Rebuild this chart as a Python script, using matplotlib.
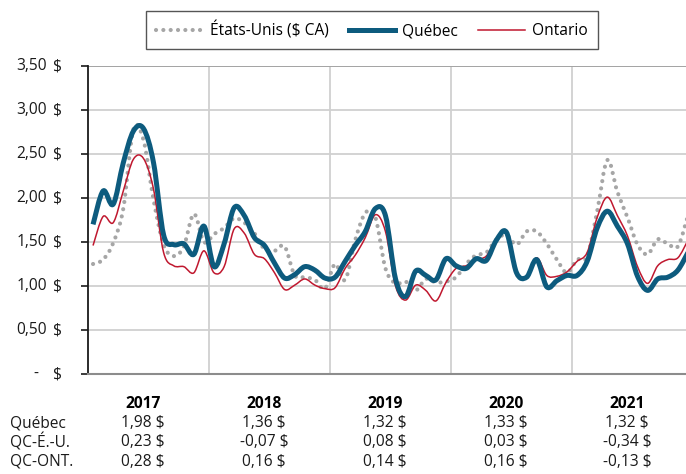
import matplotlib
matplotlib.use("Agg")
import matplotlib.pyplot as plt
import numpy as np
from matplotlib.path import Path
from matplotlib.patches import PathPatch
from matplotlib.lines import Line2D
import matplotlib.transforms as mtransforms

plt.rcParams['font.family'] = ['Open Sans', 'DejaVu Sans']

# ---- data (monthly, Jan 2017 - Dec 2021) ----
quebec = [1.70, 2.08, 1.93, 2.40, 2.76, 2.79, 2.40, 1.58, 1.47, 1.48, 1.36, 1.68,
          1.22, 1.48, 1.89, 1.80, 1.55, 1.46, 1.26, 1.09, 1.13, 1.22, 1.18, 1.09,
          1.10, 1.28, 1.46, 1.62, 1.88, 1.80, 1.08, 0.88, 1.17, 1.12, 1.07, 1.31,
          1.23, 1.20, 1.31, 1.29, 1.52, 1.61, 1.15, 1.10, 1.30, 0.99, 1.06, 1.12,
          1.12, 1.28, 1.66, 1.85, 1.68, 1.48, 1.11, 0.95, 1.08, 1.10, 1.18, 1.38]
ontario = [1.46, 1.79, 1.72, 2.08, 2.44, 2.45, 2.10, 1.38, 1.23, 1.22, 1.15, 1.40,
           1.15, 1.22, 1.65, 1.60, 1.36, 1.31, 1.15, 0.96, 1.01, 1.08, 1.01, 0.97,
           0.98, 1.20, 1.35, 1.55, 1.81, 1.62, 1.00, 0.84, 1.01, 0.95, 0.83, 1.04,
           1.20, 1.23, 1.30, 1.34, 1.53, 1.60, 1.14, 1.11, 1.32, 1.12, 1.11, 1.16,
           1.28, 1.38, 1.78, 2.01, 1.80, 1.57, 1.22, 1.03, 1.23, 1.30, 1.32, 1.52]
etats_unis = [1.25, 1.30, 1.49, 1.88, 2.78, 2.66, 1.98, 1.47, 1.34, 1.45, 1.82, 1.50,
              1.59, 1.66, 1.77, 1.72, 1.60, 1.42, 1.40, 1.45, 1.12, 1.10, 1.07, 0.97,
              1.25, 1.07, 1.52, 1.83, 1.78, 1.20, 1.03, 1.05, 0.95, 1.08, 1.04, 1.05,
              1.10, 1.25, 1.35, 1.38, 1.53, 1.58, 1.47, 1.62, 1.62, 1.48, 1.30, 1.15,
              1.30, 1.33, 1.85, 2.43, 2.07, 1.78, 1.47, 1.36, 1.53, 1.48, 1.45, 1.80]

years = ['2017', '2018', '2019', '2020', '2021']
row_labels = ['Québec', 'QC-É.-U.', 'QC-ONT.']
quebec_annual = ['1,98 $', '1,36 $', '1,32 $', '1,33 $', '1,32 $']
qc_us = ['0,23 $', '-0,07 $', '0,08 $', '0,03 $', '-0,34 $']
qc_ont = ['0,28 $', '0,16 $', '0,14 $', '0,16 $', '-0,13 $']
ytick_vals = [0, 0.5, 1.0, 1.5, 2.0, 2.5, 3.0, 3.5]
ytick_nums = ['-', '0,50', '1,00', '1,50', '2,00', '2,50', '3,00', '3,50']

C_QC = '#0d5b7e'
C_ON = '#c0182f'
C_US = '#a6a6a6'

W, H = 686, 474
fig = plt.figure(figsize=(W / 100, H / 100), dpi=100)
ax = fig.add_axes([88 / W, 1 - 374 / H, (W - 88) / W, (374 - 66) / H])

xm = (np.arange(len(quebec)) + 0.5) / 12.0


def smooth_path(x, y):
    P = np.column_stack([x, y])
    n = len(P)
    verts = [P[0]]
    codes = [Path.MOVETO]
    for i in range(n - 1):
        p0 = P[i - 1] if i > 0 else P[i]
        p3 = P[i + 2] if i + 2 < n else P[i + 1]
        c1 = P[i] + (P[i + 1] - p0) / 6.0
        c2 = P[i + 1] - (p3 - P[i]) / 6.0
        verts += [c1, c2, P[i + 1]]
        codes += [Path.CURVE4] * 3
    return Path(np.array(verts), codes)


dots = (0, (0.01, 1.75))
ax.add_patch(PathPatch(smooth_path(xm, etats_unis), fill=False, edgecolor=C_US,
                       lw=3.0, linestyle=dots, capstyle='round', zorder=3))
ax.add_patch(PathPatch(smooth_path(xm, ontario), fill=False, edgecolor=C_ON,
                       lw=1.1, zorder=4, joinstyle='round'))
ax.add_patch(PathPatch(smooth_path(xm, quebec), fill=False, edgecolor=C_QC,
                       lw=3.6, zorder=5, joinstyle='round', capstyle='butt'))

ax.set_xlim(0, (W - 88) / 121.0)
ax.set_ylim(0, 3.5)

# grid
for v in ytick_vals[1:]:
    ax.axhline(v, color='#d0d0d0', lw=1.3, zorder=1)
for xv in [1, 2, 3, 4]:
    ax.axvline(xv, color='#d0d0d0', lw=1.3, zorder=1)
ax.axhline(3.5, color='#a0a0a0', lw=1.3, zorder=1)

for s in ['top', 'right']:
    ax.spines[s].set_visible(False)
ax.spines['bottom'].set_color('#8c8c8c')
ax.spines['bottom'].set_linewidth(1.5)
ax.spines['left'].set_color('#1a1a1a')
ax.spines['left'].set_linewidth(1.3)
ax.set_xticks([])
ax.set_yticks(ytick_vals)
ax.set_yticklabels([])
ax.tick_params(axis='y', direction='out', length=5, width=1.2, color='#1a1a1a')

fs = 11.2
ytr = mtransforms.blended_transform_factory(fig.transFigure, ax.transData)
for v, s in zip(ytick_vals, ytick_nums):
    xnum = 47 / W if s != '-' else 38 / W
    fig.text(xnum, v, s, transform=ytr, ha='right', va='center', fontsize=fs,
             color='#1a1a1a')
    fig.text(62 / W, v, '$', transform=ytr, ha='right', va='center', fontsize=fs,
             color='#1a1a1a')

# legend
handles = [
    Line2D([], [], color=C_US, lw=3.0, linestyle=dots, dash_capstyle='round'),
    Line2D([], [], color=C_QC, lw=3.6),
    Line2D([], [], color=C_ON, lw=1.1),
]
leg = ax.legend(handles, ['États-Unis ($ CA)', 'Québec', 'Ontario'], ncol=3,
                loc='upper center', bbox_to_anchor=((372 - 88) / (W - 88), (374 - 11) / 308),
                frameon=True, fancybox=False, fontsize=11.2, handlelength=3.0,
                handletextpad=0.45, columnspacing=1.3, borderpad=0.65,
                borderaxespad=0)
leg.get_frame().set_edgecolor('#555555')
leg.get_frame().set_linewidth(1.0)
leg.get_frame().set_alpha(1)

# table below
ttr = mtransforms.blended_transform_factory(ax.transData, fig.transFigure)
row_y = [423, 442, 462]
for i, y in enumerate(years):
    xc = i + 0.5 - 5.5 / 121.0
    ax.text(xc, 1 - 404 / H, y, transform=ttr, ha='center', va='center',
            fontsize=fs, fontweight='bold', color='#000000')
    for vals, ry in zip([quebec_annual, qc_us, qc_ont], row_y):
        ax.text(xc, 1 - ry / H, vals[i], transform=ttr, ha='center', va='center',
                fontsize=fs, color='#1a1a1a')
for lab, ry in zip(row_labels, row_y):
    fig.text(10 / W, 1 - ry / H, lab, ha='left', va='center', fontsize=fs,
             color='#1a1a1a')

fig.savefig('out.png', dpi=100)
